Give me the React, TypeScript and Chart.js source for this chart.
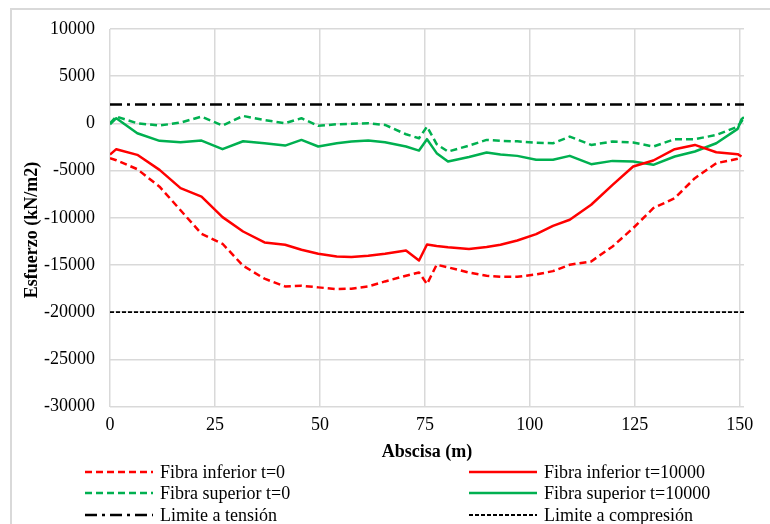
import React, { useEffect, useRef } from "react";
import { Chart, registerables } from "chart.js";

Chart.register(...registerables);

// Abscisa (m)
const abscisa = [
  0, 1.5, 6.5, 11.8, 16.8, 21.8, 26.8, 31.7, 36.8, 41.7, 45.6, 49.6, 54, 57.5,
  61.5, 65.5, 70.5, 73.6, 75.5, 77.8, 80.5, 85.5, 89.7, 93, 97, 101.5, 105.5,
  109.5, 114.6, 119.7, 124.6, 129.4, 134.5, 139.3, 144.4, 149.5, 150.4, 151,
];

// Esfuerzo (kN/m2)
const inferiorT0 = [
  -3680, -3900, -4850, -6700, -9200, -11700, -12750, -15080, -16450, -17270,
  -17200, -17370, -17550, -17510, -17270, -16740, -16140, -15790, -17020,
  -14970, -15250, -15800, -16140, -16250, -16250, -16000, -15650, -14970,
  -14620, -13040, -11090, -8980, -7920, -5800, -4210, -3750, -3650, null,
];
const inferiorT10000 = [
  -3300, -2730, -3330, -4920, -6860, -7750, -9930, -11450, -12610, -12860,
  -13390, -13810, -14090, -14160, -14020, -13810, -13460, -14520, -12830,
  -12980, -13120, -13300, -13100, -12860, -12400, -11730, -10850, -10210,
  -8620, -6510, -4570, -3930, -2730, -2280, -3050, -3260, -3510, null,
];
const superiorT0 = [
  20, 720, 20, -230, 90, 720, -230, 790, 350, 20, 550, -260, -90, -50, 20,
  -160, -1150, -1570, -340, -2200, -2980, -2350, -1750, -1850, -1900, -2050,
  -2100, -1400, -2280, -1920, -2030, -2450, -1670, -1670, -1220, -340, 190,
  650,
];
const superiorT10000 = [
  -100, 550, -1040, -1850, -1990, -1820, -2730, -1890, -2100, -2350, -1750,
  -2450, -2100, -1920, -1820, -1990, -2450, -2880, -1670, -3150, -4040, -3550,
  -3090, -3300, -3440, -3860, -3860, -3440, -4320, -3970, -4040, -4390, -3510,
  -2980, -2100, -580, 440, 650,
];

const limiteX = [0, 151];
const limiteTension = [2000, 2000];
const limiteCompresion = [-20000, -20000];

const seriesLabels = [
  "Fibra inferior t=0",
  "Fibra inferior t=10000",
  "Fibra superior t=0",
  "Fibra superior t=10000",
  "Limite a tensión",
  "Limite a compresión",
];
const xTitle = "Abscisa (m)";
const yTitle = "Esfuerzo (kN/m2)";

const FONT = '"Liberation Serif", "Times New Roman", serif';
const FS = 18;

const toPoints = (xs: number[], ys: (number | null)[]) =>
  xs.map((x, i) => ({ x, y: ys[i] }));

const legendPlugin = {
  id: "gridLegend",
  afterDraw(chart: any) {
    const ctx = chart.ctx as CanvasRenderingContext2D;
    const cols = [
      { lineX: 85, textX: 160 },
      { lineX: 469, textX: 544 },
    ];
    const rows = [472, 493, 515];
    chart.data.datasets.forEach((ds: any, i: number) => {
      const c = cols[i % 2];
      const y = rows[Math.floor(i / 2)];
      ctx.save();
      ctx.strokeStyle = ds.borderColor;
      ctx.lineWidth = ds.borderWidth;
      ctx.setLineDash(ds.borderDash || []);
      ctx.beginPath();
      ctx.moveTo(c.lineX, y);
      ctx.lineTo(c.lineX + 68, y);
      ctx.stroke();
      ctx.setLineDash([]);
      ctx.fillStyle = "#000";
      ctx.font = `${FS}px ${FONT}`;
      ctx.textBaseline = "middle";
      ctx.textAlign = "left";
      ctx.fillText(ds.label, c.textX, y + 1);
      ctx.restore();
    });
    // Y axis title
    ctx.save();
    ctx.translate(32, 230);
    ctx.rotate(-Math.PI / 2);
    ctx.fillStyle = "#000";
    ctx.font = `bold ${FS}px ${FONT}`;
    ctx.textAlign = "center";
    ctx.textBaseline = "middle";
    ctx.fillText(yTitle, 0, 0);
    ctx.restore();
  },
};

export default function App() {
  const canvasRef = useRef<HTMLCanvasElement | null>(null);

  useEffect(() => {
    if (!canvasRef.current) return;
    const red = "#FF0000";
    const green = "#00B050";
    const common = {
      showLine: true,
      pointRadius: 0,
      pointHoverRadius: 0,
      tension: 0,
      fill: false,
      borderJoinStyle: "round" as const,
    };
    const chart = new Chart(canvasRef.current, {
      type: "scatter",
      data: {
        datasets: [
          {
            ...common,
            label: seriesLabels[0],
            data: toPoints(abscisa, inferiorT0),
            borderColor: red,
            backgroundColor: red,
            borderWidth: 2.5,
            borderDash: [7, 4],
          },
          {
            ...common,
            label: seriesLabels[1],
            data: toPoints(abscisa, inferiorT10000),
            borderColor: red,
            backgroundColor: red,
            borderWidth: 2.5,
          },
          {
            ...common,
            label: seriesLabels[2],
            data: toPoints(abscisa, superiorT0),
            borderColor: green,
            backgroundColor: green,
            borderWidth: 2.5,
            borderDash: [7, 4],
          },
          {
            ...common,
            label: seriesLabels[3],
            data: toPoints(abscisa, superiorT10000),
            borderColor: green,
            backgroundColor: green,
            borderWidth: 2.5,
          },
          {
            ...common,
            label: seriesLabels[4],
            data: toPoints(limiteX, limiteTension),
            borderColor: "#000",
            backgroundColor: "#000",
            borderWidth: 2.5,
            borderDash: [12, 5, 3, 5],
          },
          {
            ...common,
            label: seriesLabels[5],
            data: toPoints(limiteX, limiteCompresion),
            borderColor: "#000",
            backgroundColor: "#000",
            borderWidth: 1.8,
            borderDash: [4, 2],
          },
        ],
      },
      options: {
        responsive: false,
        animation: false,
        events: [],
        layout: { padding: { left: 0, right: 26, top: 29, bottom: 60.8 } },
        plugins: {
          legend: { display: false },
          tooltip: { enabled: false },
          title: { display: false },
        },
        scales: {
          x: {
            type: "linear",
            min: 0,
            max: 151,
            grid: { color: "#d9d9d9", lineWidth: 1.5, drawTicks: false },
            border: { display: false },
            ticks: {
              stepSize: 25,
              includeBounds: false,
              padding: 8,
              color: "#000",
              font: { family: FONT, size: FS },
              maxRotation: 0,
              callback: (v: any) => String(v),
            },
            title: {
              display: true,
              text: xTitle,
              color: "#000",
              font: { family: FONT, size: FS, weight: "bold" },
              padding: { top: 0, bottom: 0 },
            },
            afterFit: (scale: any) => {
              scale.height = 56.6;
            },
          },
          y: {
            type: "linear",
            min: -30000,
            max: 10000,
            grid: { color: "#d9d9d9", lineWidth: 1.5, drawTicks: false },
            border: { display: false },
            ticks: {
              stepSize: 5000,
              padding: 15,
              color: "#000",
              font: { family: FONT, size: FS },
              callback: (v: any) => String(v),
            },
            title: { display: false },
            afterFit: (scale: any) => {
              scale.width = 110;
            },
          },
        },
      },
      plugins: [legendPlugin],
    });
    return () => chart.destroy();
  }, []);

  return (
    <div
      style={{
        position: "absolute",
        left: 0,
        top: 0,
        width: 770,
        height: 524,
        overflow: "hidden",
        background: "#fff",
      }}
    >
      <div
        style={{
          position: "absolute",
          left: 10,
          top: 8,
          width: 900,
          height: 700,
          borderLeft: "2px solid #d9d9d9",
          borderTop: "2px solid #d9d9d9",
        }}
      />
      <canvas
        ref={canvasRef}
        width={770}
        height={524}
        style={{ position: "absolute", left: 0, top: 0, width: 770, height: 524 }}
      />
    </div>
  );
}
